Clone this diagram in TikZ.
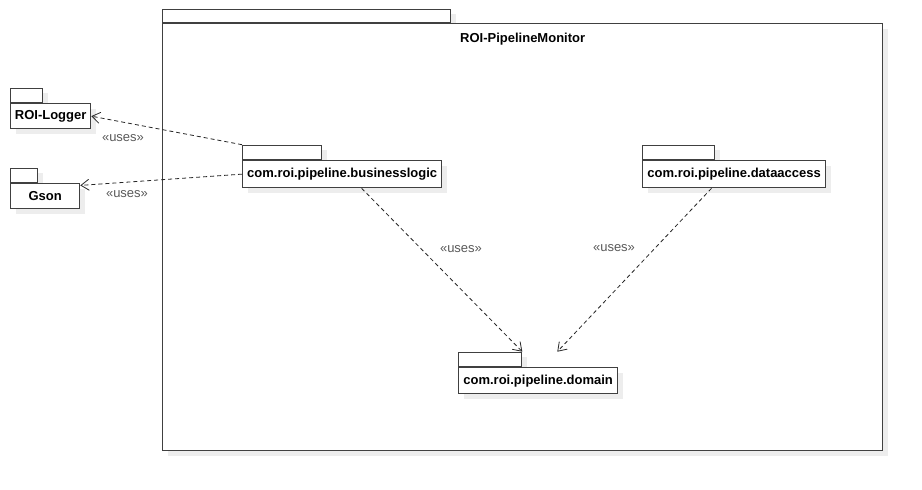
\documentclass[tikz,border=0pt]{standalone}
\usepackage{fontspec}
\setmainfont{Liberation Sans}
\usetikzlibrary{positioning,arrows.meta,shadows}
\pgfdeclarelayer{background}
\pgfdeclarelayer{tabs}
\pgfsetlayers{background,tabs,main}

\tikzset{
  pkgshadow/.style={drop shadow={shadow xshift=5pt, shadow yshift=-5pt, fill=black!7, opacity=1}},
  pkg/.style={draw=black!75, line width=1.3pt, fill=white, pkgshadow, anchor=north west,
    inner sep=0pt, font=\fontsize{13}{15}\selectfont\bfseries},
  tab/.style={draw=black!75, line width=1.3pt, fill=white, pkgshadow, anchor=south west,
    inner sep=0pt, minimum height=14pt},
  uses/.style={text=black!65, font=\fontsize{13}{15}\selectfont},
  dep/.style={draw=black!85, line width=0.8pt, dash pattern=on 4pt off 3pt,
    -{Straight Barb[length=8pt,width=11pt]}},
}

\begin{document}
\begin{tikzpicture}[x=1pt,y=-1pt]
	\useasboundingbox (0,0) rectangle (922,490);
	% outer package
	\begin{pgfonlayer}{background}
		\node[tab, minimum width=288pt, minimum height=13pt] (montab) at (162,23) {};
		\node[pkg, minimum width=720pt, minimum height=427pt] (monitor) at (montab.south west) {};
	\end{pgfonlayer}
	\node[font=\fontsize{13}{15}\selectfont\bfseries, below=7pt] (montitle) at (monitor.north) {ROI-PipelineMonitor};
	% package bodies
	\node[pkg, minimum width=80pt, minimum height=25pt] (logger) at (10,103) {ROI-Logger};
	\node[pkg, minimum width=69pt, minimum height=25pt] (gson) at (10,183) {Gson};
	\node[pkg, minimum width=199pt, minimum height=27pt] (blogic) at (242,160) {com.roi.pipeline.businesslogic};
	\node[pkg, minimum width=183pt, minimum height=27pt] (daccess) at (642,160) {com.roi.pipeline.dataaccess};
	\node[pkg, minimum width=159pt, minimum height=26pt] (domain) at (458,367) {com.roi.pipeline.domain};
	% tabs
	\begin{pgfonlayer}{tabs}
		\node[tab, minimum width=32pt] (logtab) at (logger.north west) {};
		\node[tab, minimum width=27pt] (gsontab) at (gson.north west) {};
		\node[tab, minimum width=79pt] (btab) at (blogic.north west) {};
		\node[tab, minimum width=72pt] (datab) at (daccess.north west) {};
		\node[tab, minimum width=63pt] (dtab) at (domain.north west) {};
	\end{pgfonlayer}
	% dependencies
	\coordinate[right=35pt of dtab.north east] (domtop);
	\draw[dep] (btab.north west) -- (logger.east);
	\draw[dep] (blogic.west) -- (gson.17);
	\draw[dep] (blogic.-36) -- (dtab.north east);
	\draw[dep] (daccess.-148) -- (domtop);
	\node[uses] (uselog) at (123,138) {«uses»};
	\node[uses] (usegson) at (127,194) {«uses»};
	\node[uses] (usedom) at (461,249) {«uses»};
	\node[uses] (usedata) at (614,248) {«uses»};
\end{tikzpicture}
\end{document}
